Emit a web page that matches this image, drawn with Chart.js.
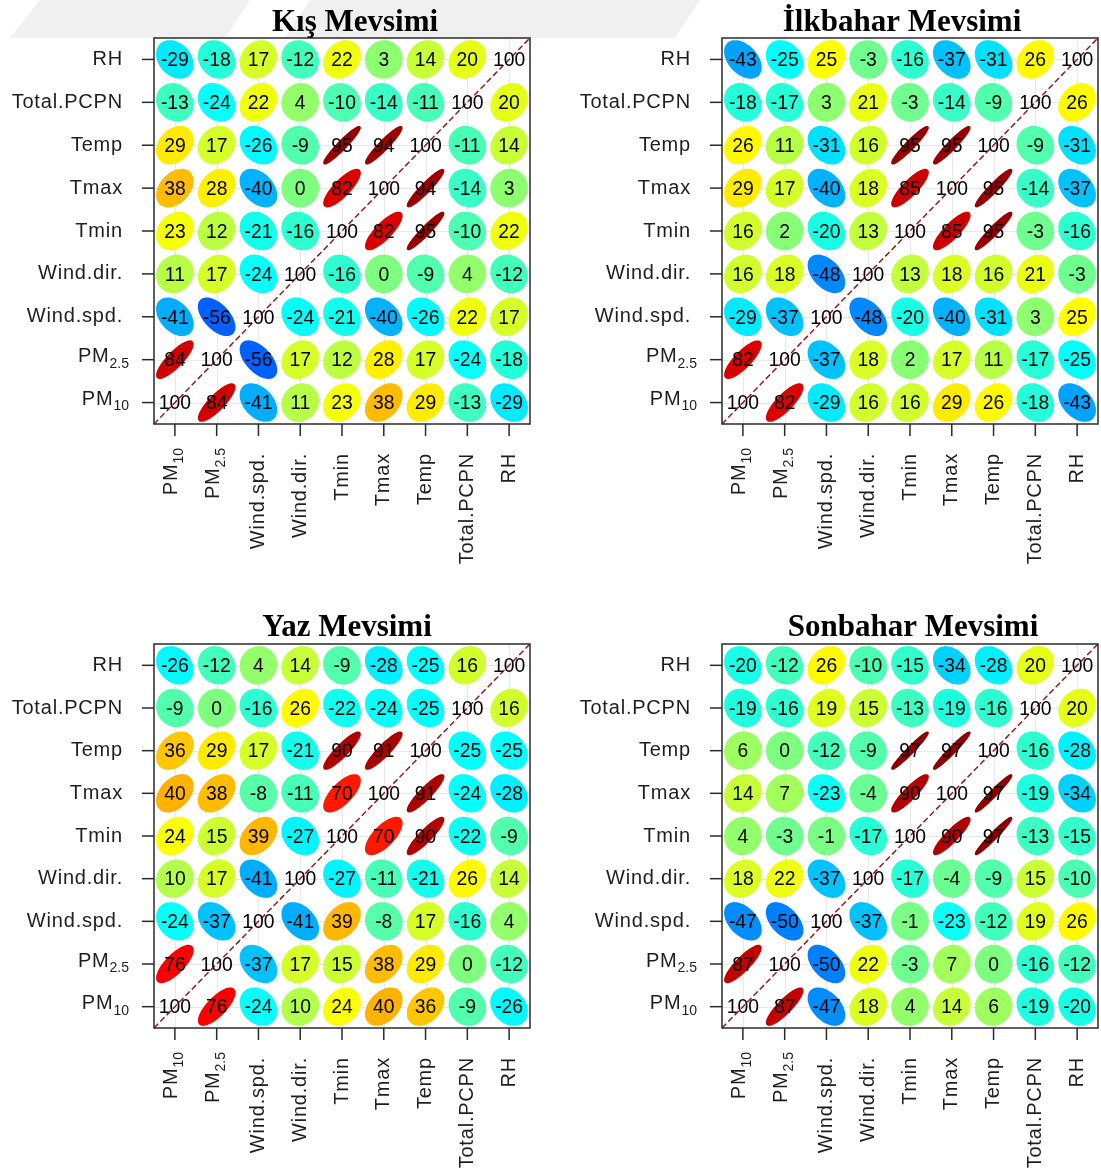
<!DOCTYPE html>
<html>
<head>
<meta charset="utf-8">
<script src="https://cdn.jsdelivr.net/npm/chart.js@4.4.1/dist/chart.umd.min.js"></script>
<style>
  html, body { margin: 0; padding: 0; background: #ffffff; }
  body { width: 1101px; height: 1173px; position: relative; overflow: hidden; }
  canvas { position: absolute; }
  #band { position: absolute; left: 0; top: 0; }
</style>
</head>
<body>
<svg id="band" width="1101" height="40">
  <polygon points="40,0 250,0 225,38 10,38" fill="#f0f0f0"/>
  <polygon points="310,0 560,0 560,38 285,38" fill="#f0f0f0"/>
  <polygon points="560,0 700,0 675,38 560,38" fill="#f0f0f0"/>
</svg>
<canvas id="c1" width="560" height="590" style="left:0px;top:0px"></canvas>
<canvas id="c2" width="541" height="590" style="left:560px;top:0px"></canvas>
<canvas id="c3" width="560" height="583" style="left:0px;top:590px"></canvas>
<canvas id="c4" width="541" height="583" style="left:560px;top:590px"></canvas>
<script>
// Variables, in axis order (x: left to right, y: bottom to top)
const varNames = ['PM', 'PM', 'Wind.spd.', 'Wind.dir.', 'Tmin', 'Tmax', 'Temp', 'Total.PCPN', 'RH'];
const varSubs  = ['10', '2.5', '', '', '', '', '', '', ''];

const seasonTitles = ['Kış Mevsimi', 'İlkbahar Mevsimi', 'Yaz Mevsimi', 'Sonbahar Mevsimi'];

// Correlation coefficients (x100); row i / column j follow varNames
const kis = [
  [100,  84, -41,  11,  23,  38,  29, -13, -29],
  [ 84, 100, -56,  17,  12,  28,  17, -24, -18],
  [-41, -56, 100, -24, -21, -40, -26,  22,  17],
  [ 11,  17, -24, 100, -16,   0,  -9,   4, -12],
  [ 23,  12, -21, -16, 100,  82,  95, -10,  22],
  [ 38,  28, -40,   0,  82, 100,  94, -14,   3],
  [ 29,  17, -26,  -9,  95,  94, 100, -11,  14],
  [-13, -24,  22,   4, -10, -14, -11, 100,  20],
  [-29, -18,  17, -12,  22,   3,  14,  20, 100]
];
const ilkbahar = [
  [100,  82, -29,  16,  16,  29,  26, -18, -43],
  [ 82, 100, -37,  18,   2,  17,  11, -17, -25],
  [-29, -37, 100, -48, -20, -40, -31,   3,  25],
  [ 16,  18, -48, 100,  13,  18,  16,  21,  -3],
  [ 16,   2, -20,  13, 100,  85,  95,  -3, -16],
  [ 29,  17, -40,  18,  85, 100,  95, -14, -37],
  [ 26,  11, -31,  16,  95,  95, 100,  -9, -31],
  [-18, -17,   3,  21,  -3, -14,  -9, 100,  26],
  [-43, -25,  25,  -3, -16, -37, -31,  26, 100]
];
const yaz = [
  [100,  76, -24,  10,  24,  40,  36,  -9, -26],
  [ 76, 100, -37,  17,  15,  38,  29,   0, -12],
  [-24, -37, 100, -41,  39,  -8,  17, -16,   4],
  [ 10,  17, -41, 100, -27, -11, -21,  26,  14],
  [ 24,  15,  39, -27, 100,  70,  90, -22,  -9],
  [ 40,  38,  -8, -11,  70, 100,  91, -24, -28],
  [ 36,  29,  17, -21,  90,  91, 100, -25, -25],
  [ -9,   0, -16,  26, -22, -24, -25, 100,  16],
  [-26, -12,   4,  14,  -9, -28, -25,  16, 100]
];
const sonbahar = [
  [100,  87, -47,  18,   4,  14,   6, -19, -20],
  [ 87, 100, -50,  22,  -3,   7,   0, -16, -12],
  [-47, -50, 100, -37,  -1, -23, -12,  19,  26],
  [ 18,  22, -37, 100, -17,  -4,  -9,  15, -10],
  [  4,  -3,  -1, -17, 100,  90,  97, -13, -15],
  [ 14,   7, -23,  -4,  90, 100,  97, -19, -34],
  [  6,   0, -12,  -9,  97,  97, 100, -16, -28],
  [-19, -16,  19,  15, -13, -19, -16, 100,  20],
  [-20, -12,  26, -10, -15, -34, -28,  20, 100]
];

// Jet colour ramp over r in [-1, 1]
const jetStops = [[0,0,127],[0,0,255],[0,127,255],[0,255,255],[127,255,127],[255,255,0],[255,127,0],[255,0,0],[127,0,0]];
function jetColour(r) {
  const p = Math.max(0, Math.min(1, (r + 1) / 2)) * (jetStops.length - 1);
  const i = Math.min(jetStops.length - 2, Math.floor(p));
  const t = p - i;
  const a = jetStops[i], b = jetStops[i + 1];
  const c = a.map((v, k) => Math.round(v + (b[k] - v) * t));
  return 'rgb(' + c.join(',') + ')';
}

const LABEL_FONT = '20px "Liberation Sans", Arial, sans-serif';
const SUB_FONT = '14px "Liberation Sans", Arial, sans-serif';
const CELL_FONT = '21px "Liberation Sans", Arial, sans-serif';
const TITLE_FONT = 'bold 31px "Liberation Serif", "Times New Roman", serif';
const AXIS_COL = '#1e1e1e';

// Ellipse of a bivariate normal with correlation r (90% level, scale 0.2 per cell)
function traceEllipse(ctx, cx, cy, r, cw, ch) {
  const k = 0.2 * Math.sqrt(-2 * Math.log(0.1));
  const d = Math.acos(Math.max(-1, Math.min(1, r)));
  ctx.beginPath();
  const n = 72;
  for (let s = 0; s <= n; s++) {
    const a = s / n * 2 * Math.PI;
    const px = cx + k * Math.cos(a + d / 2) * cw;
    const py = cy - k * Math.cos(a - d / 2) * ch;
    if (s === 0) ctx.moveTo(px, py); else ctx.lineTo(px, py);
  }
  ctx.closePath();
}

// Label with optional subscript; anchor is the right end of the text
function drawLabel(ctx, base, sub, xRight, y) {
  ctx.textBaseline = 'middle';
  ctx.textAlign = 'right';
  if (sub) {
    ctx.letterSpacing = '0px';
    ctx.font = SUB_FONT;
    ctx.fillText(sub, xRight, y + 7);
    const w = ctx.measureText(sub).width;
    ctx.font = LABEL_FONT;
    ctx.letterSpacing = '0.8px';
    ctx.fillText(base, xRight - w, y);
  } else {
    ctx.font = LABEL_FONT;
    ctx.letterSpacing = '0.8px';
    ctx.fillText(base, xRight, y);
  }
  ctx.letterSpacing = '0px';
}

const corrgramPlugin = {
  id: 'corrgram',
  beforeDatasetsDraw(chart, args, opts) {
    const ctx = chart.ctx, xs = chart.scales.x, ys = chart.scales.y, area = chart.chartArea;
    ctx.save();
    // faint grid at each variable position
    ctx.strokeStyle = '#e8e8e8';
    ctx.lineWidth = 1;
    for (let i = 0; i < varNames.length; i++) {
      const px = Math.round(xs.getPixelForValue(i)) + 0.5;
      const py = Math.round(ys.getPixelForValue(i)) + 0.5;
      ctx.beginPath(); ctx.moveTo(px, area.top); ctx.lineTo(px, area.bottom); ctx.stroke();
      ctx.beginPath(); ctx.moveTo(area.left, py); ctx.lineTo(area.right, py); ctx.stroke();
    }
    // dashed identity line
    ctx.strokeStyle = '#951b1b';
    ctx.lineWidth = 1.5;
    ctx.setLineDash([6, 3]);
    ctx.beginPath();
    ctx.moveTo(xs.getPixelForValue(-0.5), ys.getPixelForValue(-0.5));
    ctx.lineTo(xs.getPixelForValue(varNames.length - 0.5), ys.getPixelForValue(varNames.length - 0.5));
    ctx.stroke();
    ctx.setLineDash([]);
    ctx.restore();
  },
  afterDatasetsDraw(chart, args, opts) {
    const ctx = chart.ctx, xs = chart.scales.x, ys = chart.scales.y, area = chart.chartArea;
    const cw = xs.getPixelForValue(1) - xs.getPixelForValue(0);
    const ch = ys.getPixelForValue(0) - ys.getPixelForValue(1);
    const meta = chart.getDatasetMeta(0);
    const pts = chart.data.datasets[0].data;
    ctx.save();
    meta.data.forEach((el, k) => {
      const r = pts[k].v / 100;
      if (Math.abs(r) >= 0.995) return;
      const col = jetColour(r);
      traceEllipse(ctx, el.x, el.y, r, cw, ch);
      ctx.fillStyle = col; ctx.fill();
      ctx.strokeStyle = col; ctx.lineWidth = 1.8; ctx.stroke();
    });
    // coefficient labels, slightly condensed
    ctx.fillStyle = '#000000';
    ctx.font = CELL_FONT;
    ctx.textAlign = 'center';
    ctx.textBaseline = 'middle';
    meta.data.forEach((el, k) => {
      ctx.save();
      ctx.translate(el.x, el.y + 1);
      ctx.scale(0.92, 1);
      ctx.fillText(String(pts[k].v), 0, 0);
      ctx.restore();
    });

    // frame, ticks and variable labels
    ctx.strokeStyle = '#2a2a2a';
    ctx.lineWidth = 1.5;
    ctx.strokeRect(area.left, area.top, area.right - area.left, area.bottom - area.top);
    ctx.fillStyle = AXIS_COL;
    for (let i = 0; i < varNames.length; i++) {
      const py = ys.getPixelForValue(i);
      ctx.beginPath(); ctx.moveTo(area.left - 12, py); ctx.lineTo(area.left, py); ctx.stroke();
      drawLabel(ctx, varNames[i], varSubs[i], area.left - (varSubs[i] ? 25 : 31), py - (varSubs[i] ? 3 : 0));
      const px = xs.getPixelForValue(i);
      ctx.beginPath(); ctx.moveTo(px, area.bottom); ctx.lineTo(px, area.bottom + 12); ctx.stroke();
      ctx.save();
      ctx.translate(px - (varSubs[i] ? 3 : 0), area.bottom + (varSubs[i] ? 24 : 29));
      ctx.rotate(-Math.PI / 2);
      drawLabel(ctx, varNames[i], varSubs[i], 0, 0);
      ctx.restore();
    }
    // title
    ctx.fillStyle = '#000000';
    ctx.font = TITLE_FONT;
    ctx.textAlign = 'center';
    ctx.textBaseline = 'alphabetic';
    ctx.fillText(opts.title, opts.titleX, opts.titleY);
    ctx.restore();
  }
};

function buildPoints(matrix) {
  const out = [];
  for (let i = 0; i < matrix.length; i++)
    for (let j = 0; j < matrix[i].length; j++)
      out.push({ x: j, y: i, v: matrix[i][j] });
  return out;
}

function makePanel(id, matrix, title, pad, titleX, titleY) {
  const n = varNames.length;
  return new Chart(document.getElementById(id), {
    type: 'scatter',
    data: { datasets: [{ data: buildPoints(matrix), pointRadius: 0, pointHoverRadius: 0 }] },
    options: {
      responsive: false,
      animation: false,
      devicePixelRatio: 1,
      events: [],
      layout: { padding: pad },
      scales: {
        x: { type: 'linear', min: -0.5, max: n - 0.5, display: false },
        y: { type: 'linear', min: -0.5, max: n - 0.5, display: false }
      },
      plugins: {
        legend: { display: false },
        tooltip: { enabled: false },
        corrgram: { title: title, titleX: titleX, titleY: titleY }
      }
    },
    plugins: [corrgramPlugin]
  });
}

makePanel('c1', kis,      seasonTitles[0], { left: 154, top: 38, right: 30, bottom: 166 }, 355, 31);
makePanel('c2', ilkbahar, seasonTitles[1], { left: 162, top: 38, right: 3,  bottom: 166 }, 342, 31);
makePanel('c3', yaz,      seasonTitles[2], { left: 154, top: 54, right: 30, bottom: 145 }, 347, 46);
makePanel('c4', sonbahar, seasonTitles[3], { left: 162, top: 54, right: 3,  bottom: 145 }, 353, 46);
</script>
</body>
</html>
